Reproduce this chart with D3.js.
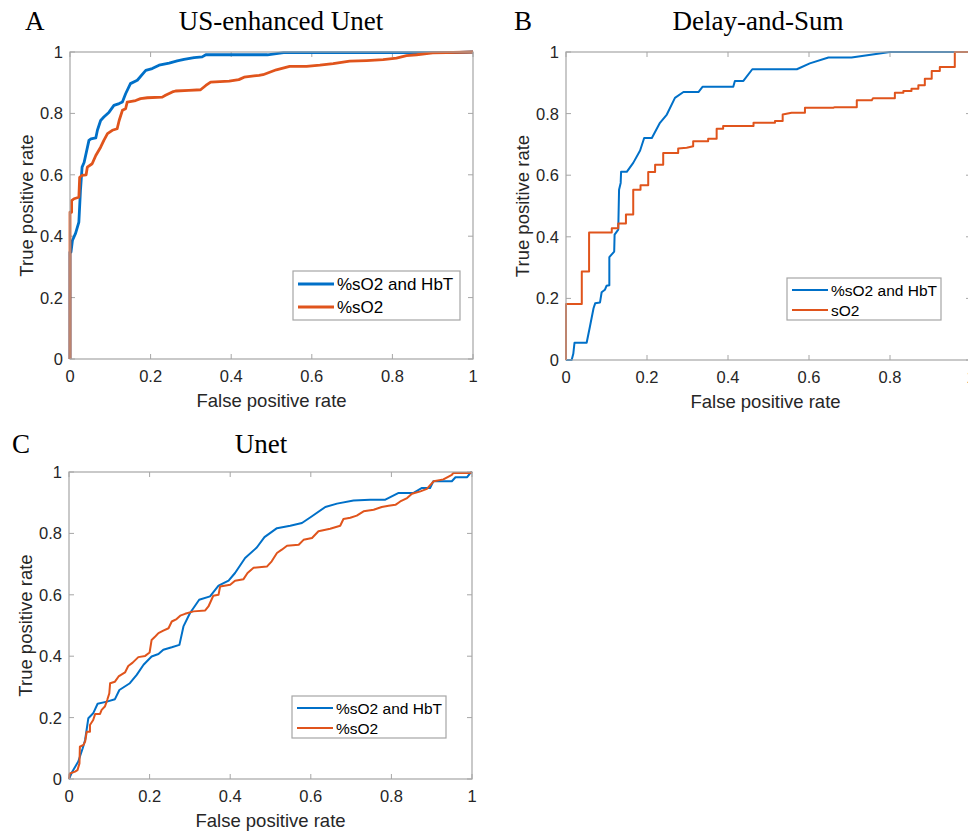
<!DOCTYPE html>
<html>
<head>
<meta charset="utf-8">
<script src="https://cdn.jsdelivr.net/npm/d3@7"></script>
<style>
  body { margin: 0; background: #fff; }
  svg { display: block; }
  .tick-label { font-family: "Liberation Sans", Arial, sans-serif; font-size: 16.5px; fill: #262626; }
  .axis-label { font-family: "Liberation Sans", Arial, sans-serif; font-size: 18.5px; fill: #262626; }
  .legend-text { font-family: "Liberation Sans", Arial, sans-serif; fill: #000; }
  .panel-title, .panel-letter { font-family: "Liberation Serif", "Times New Roman", serif; font-size: 27px; fill: #000; }
</style>
</head>
<body>
<svg id="chart" width="968" height="833"></svg>
<script>
// ROC points, [false positive rate, true positive rate]
const usUnetCombined = [[0,0],[0,0.348],[0.0025,0.348],[0.006,0.386],[0.014,0.41],[0.022,0.446],[0.026,0.55],[0.03,0.625],[0.035,0.64],[0.047,0.712],[0.052,0.717],[0.064,0.72],[0.068,0.745],[0.076,0.777],[0.084,0.788],[0.097,0.804],[0.109,0.826],[0.122,0.832],[0.13,0.837],[0.138,0.864],[0.15,0.897],[0.167,0.908],[0.188,0.94],[0.204,0.946],[0.221,0.957],[0.246,0.964],[0.266,0.971],[0.283,0.976],[0.308,0.982],[0.328,0.984],[0.337,0.991],[0.49,0.991],[0.53,0.998],[0.95,0.998],[1,1]];
const usUnetSo2 = [[0,0],[0,0.478],[0.004,0.478],[0.004,0.516],[0.01,0.522],[0.022,0.527],[0.024,0.592],[0.03,0.598],[0.04,0.6],[0.043,0.625],[0.055,0.636],[0.064,0.663],[0.076,0.69],[0.084,0.712],[0.093,0.734],[0.105,0.745],[0.117,0.75],[0.122,0.777],[0.13,0.81],[0.138,0.815],[0.142,0.837],[0.163,0.842],[0.175,0.848],[0.192,0.851],[0.229,0.853],[0.237,0.859],[0.254,0.87],[0.262,0.873],[0.295,0.875],[0.324,0.877],[0.337,0.891],[0.349,0.902],[0.395,0.905],[0.419,0.91],[0.432,0.918],[0.469,0.924],[0.479,0.926],[0.512,0.942],[0.545,0.953],[0.587,0.953],[0.62,0.957],[0.653,0.962],[0.694,0.97],[0.736,0.972],[0.777,0.975],[0.81,0.98],[0.835,0.988],[0.86,0.991],[0.9,0.997],[1,1]];

const dasCombined = [[0,0],[0.014,0],[0.018,0.02],[0.021,0.056],[0.051,0.056],[0.059,0.108],[0.068,0.168],[0.072,0.184],[0.084,0.187],[0.088,0.22],[0.096,0.228],[0.1,0.241],[0.107,0.243],[0.107,0.334],[0.119,0.352],[0.12,0.407],[0.129,0.423],[0.131,0.553],[0.135,0.575],[0.136,0.611],[0.15,0.611],[0.166,0.64],[0.183,0.68],[0.193,0.721],[0.212,0.721],[0.232,0.77],[0.249,0.797],[0.269,0.851],[0.29,0.87],[0.327,0.87],[0.337,0.887],[0.413,0.887],[0.417,0.906],[0.438,0.906],[0.46,0.944],[0.57,0.944],[0.602,0.963],[0.648,0.982],[0.705,0.982],[0.8,1],[1,1]];
const dasSo2 = [[0,0],[0,0.182],[0.039,0.182],[0.039,0.287],[0.057,0.287],[0.057,0.414],[0.113,0.414],[0.113,0.428],[0.129,0.428],[0.129,0.443],[0.148,0.443],[0.148,0.472],[0.166,0.472],[0.166,0.553],[0.184,0.553],[0.184,0.567],[0.203,0.567],[0.203,0.61],[0.22,0.61],[0.22,0.634],[0.24,0.634],[0.24,0.672],[0.277,0.672],[0.277,0.687],[0.298,0.689],[0.314,0.694],[0.314,0.71],[0.351,0.71],[0.351,0.718],[0.372,0.718],[0.372,0.751],[0.388,0.751],[0.388,0.76],[0.463,0.76],[0.463,0.77],[0.516,0.77],[0.516,0.776],[0.535,0.776],[0.535,0.797],[0.557,0.803],[0.59,0.803],[0.59,0.819],[0.66,0.819],[0.664,0.821],[0.718,0.821],[0.718,0.843],[0.755,0.843],[0.758,0.85],[0.812,0.85],[0.812,0.868],[0.833,0.868],[0.833,0.873],[0.853,0.873],[0.853,0.881],[0.87,0.881],[0.87,0.892],[0.886,0.892],[0.886,0.913],[0.903,0.913],[0.903,0.938],[0.923,0.938],[0.923,0.951],[0.96,0.951],[0.96,1],[1,1]];

const unetCombined = [[0,0],[0.007,0.021],[0.023,0.057],[0.034,0.1],[0.04,0.127],[0.048,0.198],[0.06,0.214],[0.071,0.245],[0.094,0.252],[0.114,0.26],[0.125,0.29],[0.151,0.312],[0.168,0.339],[0.185,0.372],[0.205,0.399],[0.222,0.407],[0.234,0.421],[0.255,0.429],[0.274,0.437],[0.284,0.497],[0.3,0.54],[0.323,0.584],[0.35,0.595],[0.371,0.63],[0.396,0.646],[0.412,0.671],[0.437,0.72],[0.466,0.754],[0.485,0.788],[0.516,0.817],[0.549,0.825],[0.578,0.834],[0.602,0.855],[0.636,0.886],[0.665,0.897],[0.706,0.907],[0.747,0.91],[0.785,0.91],[0.818,0.932],[0.855,0.932],[0.876,0.948],[0.896,0.948],[0.904,0.97],[0.95,0.97],[0.959,0.983],[0.988,0.983],[0.996,0.997],[1,1]];
const unetSo2 = [[0,0],[0.002,0.018],[0.015,0.024],[0.021,0.029],[0.026,0.051],[0.027,0.105],[0.036,0.111],[0.04,0.122],[0.044,0.154],[0.052,0.154],[0.052,0.176],[0.06,0.192],[0.065,0.212],[0.077,0.212],[0.081,0.225],[0.089,0.236],[0.095,0.258],[0.1,0.279],[0.102,0.312],[0.114,0.317],[0.123,0.334],[0.139,0.347],[0.147,0.368],[0.158,0.379],[0.172,0.397],[0.189,0.401],[0.2,0.412],[0.205,0.453],[0.214,0.464],[0.222,0.475],[0.234,0.483],[0.247,0.491],[0.255,0.513],[0.267,0.521],[0.276,0.532],[0.288,0.538],[0.309,0.546],[0.338,0.549],[0.346,0.562],[0.358,0.597],[0.371,0.6],[0.375,0.627],[0.4,0.633],[0.412,0.646],[0.433,0.651],[0.443,0.671],[0.458,0.688],[0.491,0.692],[0.503,0.709],[0.516,0.736],[0.528,0.747],[0.541,0.76],[0.57,0.763],[0.582,0.779],[0.603,0.785],[0.619,0.807],[0.648,0.815],[0.673,0.825],[0.681,0.847],[0.698,0.851],[0.714,0.858],[0.731,0.872],[0.756,0.877],[0.776,0.886],[0.793,0.89],[0.81,0.893],[0.822,0.904],[0.839,0.915],[0.851,0.929],[0.872,0.937],[0.888,0.945],[0.905,0.97],[0.929,0.976],[0.95,0.991],[0.954,0.997],[0.996,0.997],[1,1]];

const tickValues = [0, 0.2, 0.4, 0.6, 0.8, 1];
const tickLabels = ['0', '0.2', '0.4', '0.6', '0.8', '1'];
const seriesColors = ['#0070c8', '#e0541c'];

const svg = d3.select('#chart');

const panels = [
    { letter: 'A', title: 'US-enhanced Unet', left: 70, right: 473, top: 52, bottom: 359,
      titleX: 281, titleY: 30, letterX: 25,
      series: [usUnetCombined, usUnetSo2], names: ['%sO2 and HbT', '%sO2'],
      width: 2.8, legendFont: 17, rowGap: 23, rowTop: 13,
      legend: { x: 293, y: 271, w: 167, h: 49 } },
    { letter: 'B', title: 'Delay-and-Sum', left: 566, right: 971, top: 52, bottom: 360,
      titleX: 758, titleY: 30, letterX: 514,
      series: [dasCombined, dasSo2], names: ['%sO2 and HbT', 'sO2'],
      width: 2, legendFont: 15.5, rowGap: 20, rowTop: 12,
      legend: { x: 787, y: 278, w: 154, h: 42 } },
    { letter: 'C', title: 'Unet', left: 69, right: 472, top: 472, bottom: 779,
      titleX: 261, titleY: 453, letterX: 12,
      series: [unetCombined, unetSo2], names: ['%sO2 and HbT', '%sO2'],
      width: 2, legendFont: 15.5, rowGap: 20, rowTop: 12,
      legend: { x: 292, y: 696, w: 154, h: 42 } }
];

panels.forEach(drawPanel);

function drawPanel(p) {
    const x = d3.scaleLinear().domain([0, 1]).range([p.left, p.right]);
    const y = d3.scaleLinear().domain([0, 1]).range([p.bottom, p.top]);
    const g = svg.append('g');

    // letter and title
    g.append('text').attr('class', 'panel-letter')
        .attr('x', p.letterX).attr('y', p.titleY).text(p.letter);
    g.append('text').attr('class', 'panel-title')
        .attr('x', p.titleX).attr('y', p.titleY)
        .attr('text-anchor', 'middle').text(p.title);

    // inward ticks on all four sides
    const tickLen = 5;
    tickValues.forEach(function(v) {
        g.append('line').attr('x1', x(v)).attr('x2', x(v))
            .attr('y1', p.bottom).attr('y2', p.bottom - tickLen).attr('stroke', '#a6a6a6');
        g.append('line').attr('x1', x(v)).attr('x2', x(v))
            .attr('y1', p.top).attr('y2', p.top + tickLen).attr('stroke', '#a6a6a6');
        g.append('line').attr('y1', y(v)).attr('y2', y(v))
            .attr('x1', p.left).attr('x2', p.left + tickLen).attr('stroke', '#a6a6a6');
        g.append('line').attr('y1', y(v)).attr('y2', y(v))
            .attr('x1', p.right).attr('x2', p.right - tickLen).attr('stroke', '#a6a6a6');
    });

    g.selectAll('.xt').data(tickValues).enter().append('text')
        .attr('class', 'tick-label')
        .attr('x', d => x(d)).attr('y', p.bottom + 23)
        .attr('text-anchor', 'middle')
        .text((d, i) => tickLabels[i]);
    g.selectAll('.yt').data(tickValues).enter().append('text')
        .attr('class', 'tick-label')
        .attr('x', p.left - 7).attr('y', d => y(d) + 6)
        .attr('text-anchor', 'end')
        .text((d, i) => tickLabels[i]);

    // axis labels
    g.append('text').attr('class', 'axis-label')
        .attr('x', (p.left + p.right) / 2 - (p.letter === 'B' ? 3 : 0)).attr('y', p.bottom + 48)
        .attr('text-anchor', 'middle').text('False positive rate');
    g.append('text').attr('class', 'axis-label')
        .attr('transform', `translate(${p.left - 37},${(p.top + p.bottom) / 2}) rotate(-90)`)
        .attr('text-anchor', 'middle').text('True positive rate');

    // ROC curves
    const line = d3.line().x(d => x(d[0])).y(d => y(d[1]));
    p.series.forEach(function(s, i) {
        g.append('path').datum(s)
            .attr('d', line)
            .attr('fill', 'none')
            .attr('stroke', seriesColors[i])
            .attr('stroke-width', p.width)
            .attr('stroke-linejoin', 'round');
    });

    // axes box on top
    g.append('rect')
        .attr('x', p.left).attr('y', p.top)
        .attr('width', p.right - p.left).attr('height', p.bottom - p.top)
        .attr('fill', 'none').attr('stroke', '#a6a6a6').attr('stroke-width', 1.2);

    // legend
    const L = p.legend;
    const lg = g.append('g');
    lg.append('rect').attr('x', L.x).attr('y', L.y).attr('width', L.w).attr('height', L.h)
        .attr('fill', '#fff').attr('stroke', '#a6a6a6').attr('stroke-width', 1.2);
    p.names.forEach(function(name, i) {
        const ry = L.y + p.rowTop + i * p.rowGap;
        lg.append('line').attr('x1', L.x + 5).attr('x2', L.x + 41)
            .attr('y1', ry).attr('y2', ry)
            .attr('stroke', seriesColors[i]).attr('stroke-width', p.width);
        lg.append('text').attr('class', 'legend-text')
            .style('font-size', p.legendFont + 'px')
            .attr('x', L.x + 44).attr('y', ry + 6).text(name);
    });
}
</script>
</body>
</html>
